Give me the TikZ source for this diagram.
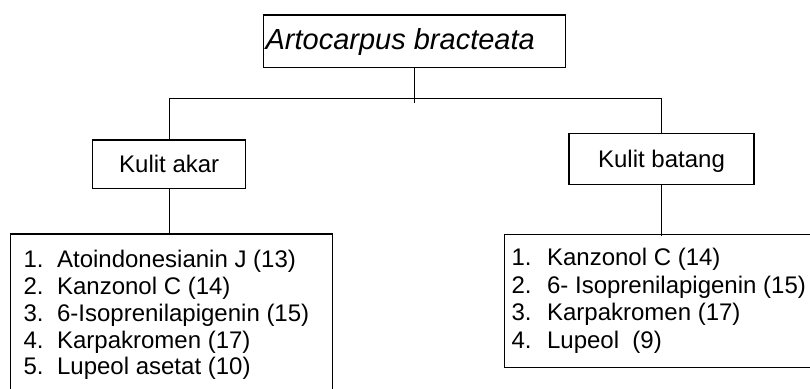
\documentclass[tikz,border=0pt]{standalone}
\usepackage{fontspec}
\setmainfont{Liberation Sans}
\begin{document}
\begin{tikzpicture}[x=1pt,y=-1pt,
  line width=1.2pt,
  box/.style={draw=black, line width=1.2pt, rectangle, inner sep=0pt},
  kulit/.style={box, font=\fontsize{24}{28}\selectfont, text height=17.2pt, text depth=0pt},
  item/.style={anchor=base west, inner sep=0pt, font=\fontsize{24}{28}\selectfont},
  conn/.style={draw=black, line width=1.2pt}]
\useasboundingbox[fill=white] (0,0) rectangle (810,388);
% top box
\node[box, anchor=north west, minimum width=302.3pt, minimum height=52.4pt] (top) at (262.7,14.3) {};
\node[anchor=base west, inner sep=0pt, font=\fontsize{29}{34}\selectfont\itshape] (toptext) at (265,49) {Artocarpus bracteata};
% second level
\node[kulit, minimum width=153pt, minimum height=48.3pt] (akar) at (169.2,164.2) {Kulit akar};
\node[kulit, minimum width=185pt, minimum height=51pt] (batang) at (661.5,158.8) {Kulit batang};
% list boxes
\node[box, anchor=north west, minimum width=321.7pt, minimum height=170pt] (listL) at (10,233.3) {};
\node[box, anchor=north west, minimum width=330pt, minimum height=132.7pt] (listR) at (504,234) {};
% left list
\foreach \n/\t [count=\i from 0] in {1/Atoindonesianin J (13),2/Kanzonol C (14),3/6-Isoprenilapigenin (15),4/Karpakromen (17),5/Lupeol asetat (10)}{
  \node[item] (ln\n) at (23,267.7+26.8*\i) {\n.};
  \node[item] (lt\n) at (56.5,267.7+26.8*\i) {\t};
}
% right list
\foreach \n/\t [count=\i from 0] in {1/Kanzonol C (14),2/6- Isoprenilapigenin (15),3/Karpakromen (17),4/Lupeol\ \ (9)}{
  \node[item] (rn\n) at (511,265.7+27.5*\i) {\n.};
  \node[item] (rt\n) at (546.5,265.7+27.5*\i) {\t};
}
% connectors
\coordinate (stub) at ([yshift=-35pt]top.south);
\coordinate (hl) at (akar.north |- 0,98.3);
\coordinate (hr) at (batang.north |- 0,98.3);
\draw[conn] (top.south) -- (stub);
\draw[conn] (akar.north) -- (hl) -- (hr) -- (batang.north);
\draw[conn] (akar.south) -- (akar.south |- listL.north);
\draw[conn] (batang.south) -- ([yshift=-2pt]batang.south |- listR.north);
\end{tikzpicture}
\end{document}
